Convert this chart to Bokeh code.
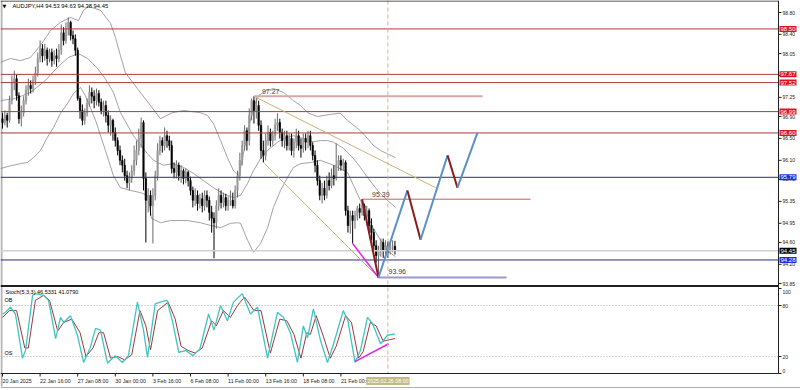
import numpy as np
from bokeh.plotting import figure
from bokeh.models import Range1d, Label
from bokeh.embed import file_html
from bokeh.resources import INLINE

# ---------------- data ----------------
title_text = "AUDJPY,H4 94.53 94.63 94.38 94.45"

open_ = [96.86, 96.79, 96.92, 96.83, 97.19, 97.52, 97.59, 97.28, 96.86, 96.97,
         97.19, 97.38, 97.47, 97.41, 97.56, 97.70, 97.96, 98.14, 98.01, 98.11,
         97.96, 98.07, 97.92, 98.01, 97.96, 98.11, 98.43, 98.29, 98.51, 98.62,
         98.38, 98.32, 98.11, 97.23, 97.01, 96.83, 96.97, 97.14, 97.34, 97.27,
         97.19, 97.32, 97.16, 97.01, 97.10, 96.92, 96.74, 96.83, 96.61, 96.46,
         96.28, 96.10, 96.01, 95.82, 95.69, 95.77, 95.91, 96.10, 96.28, 96.50,
         96.79, 95.77, 95.37, 95.46, 95.27, 95.46, 95.82, 96.28, 96.46, 96.37,
         96.55, 96.46, 96.37, 95.95, 95.88, 96.01, 95.82, 95.91, 95.77, 95.88,
         95.73, 95.55, 95.37, 95.46, 95.31, 95.40, 95.27, 95.46, 95.37, 95.15,
         95.04, 94.96, 95.27, 95.46, 95.33, 95.42, 95.27, 95.37, 95.37, 95.27,
         95.55, 95.82, 96.10, 96.37, 96.64, 96.46, 96.92, 97.19, 97.01, 97.10,
         96.74, 96.28, 96.19, 96.46, 96.61, 96.46, 96.55, 96.74, 96.79, 96.61,
         96.46, 96.55, 96.37, 96.50, 96.28, 96.43, 96.55, 96.37, 96.32, 96.50,
         96.43, 96.55, 96.37, 96.19, 96.01, 95.73, 95.46, 95.59, 95.46, 95.73,
         95.64, 95.82, 95.77, 96.01, 96.10, 96.01, 96.06, 95.18, 94.91, 95.09,
         95.00, 95.09, 95.22, 95.15, 95.27, 95.09, 95.18, 94.91, 94.78, 94.54,
         94.36, 94.45, 94.60, 94.45, 94.54, 94.42, 94.53, 94.53]
high_ = [96.97, 97.01, 96.97, 97.28, 97.65, 97.74, 97.67, 97.34, 97.10, 97.27,
         97.47, 97.59, 97.56, 97.65, 97.81, 98.07, 98.29, 98.22, 98.23, 98.16,
         98.14, 98.14, 98.11, 98.14, 98.22, 98.58, 98.53, 98.62, 98.71, 98.65,
         98.47, 98.40, 98.16, 97.28, 97.12, 97.05, 97.23, 97.47, 97.43, 97.38,
         97.41, 97.38, 97.23, 97.19, 97.19, 97.01, 96.92, 96.86, 96.70, 96.52,
         96.37, 96.19, 96.13, 95.91, 95.88, 96.01, 96.37, 96.46, 96.68, 96.88,
         96.83, 95.88, 95.59, 95.55, 95.59, 95.91, 96.41, 96.55, 96.52, 96.70,
         96.64, 96.55, 96.46, 96.06, 96.10, 96.06, 96.01, 95.95, 95.95, 95.91,
         95.80, 95.62, 95.59, 95.55, 95.49, 95.51, 95.55, 95.55, 95.44, 95.27,
         95.15, 95.37, 95.59, 95.55, 95.51, 95.49, 95.44, 95.55, 95.51, 95.64,
         95.91, 96.24, 96.46, 96.74, 96.70, 97.05, 97.23, 97.27, 97.25, 97.19,
         96.83, 96.46, 96.59, 96.74, 96.68, 96.64, 96.86, 96.96, 96.86, 96.68,
         96.64, 96.64, 96.59, 96.59, 96.50, 96.68, 96.64, 96.50, 96.59, 96.59,
         96.64, 96.64, 96.43, 96.28, 96.10, 95.82, 95.69, 95.73, 95.82, 95.88,
         95.95, 96.01, 96.41, 96.19, 96.19, 96.13, 96.10, 95.27, 95.18, 95.18,
         95.18, 95.27, 95.31, 95.39, 95.31, 95.27, 95.22, 95.04, 94.85, 94.64,
         94.54, 94.67, 94.67, 94.64, 94.62, 94.60, 94.64, 94.63]
low_ = [96.68, 96.74, 96.70, 96.79, 97.12, 97.38, 97.19, 96.77, 96.72, 96.90,
        97.12, 97.28, 97.32, 97.34, 97.48, 97.63, 97.89, 97.89, 97.92, 97.83,
        97.89, 97.81, 97.85, 97.81, 97.89, 98.03, 98.20, 98.23, 98.38, 98.29,
        98.22, 98.01, 97.19, 96.86, 96.74, 96.75, 96.90, 97.08, 97.14, 97.05,
        97.10, 97.08, 96.94, 96.90, 96.79, 96.61, 96.55, 96.46, 96.35, 96.19,
        96.01, 95.88, 95.73, 95.59, 95.55, 95.69, 95.82, 96.01, 96.19, 96.33,
        95.55, 94.60, 95.15, 95.09, 94.58, 95.37, 95.73, 96.19, 96.24, 96.28,
        96.33, 96.28, 95.86, 95.77, 95.77, 95.73, 95.69, 95.66, 95.68, 95.62,
        95.46, 95.24, 95.27, 95.18, 95.22, 95.15, 95.18, 95.24, 95.00, 94.78,
        94.31, 94.85, 95.18, 95.22, 95.24, 95.18, 95.18, 95.27, 95.22, 95.22,
        95.42, 95.73, 96.01, 96.28, 96.28, 96.37, 96.83, 96.77, 96.86, 96.64,
        96.13, 96.06, 96.10, 96.37, 96.35, 96.37, 96.46, 96.64, 96.50, 96.35,
        96.32, 96.28, 96.28, 96.19, 96.15, 96.32, 96.28, 96.15, 96.24, 96.28,
        96.32, 96.28, 96.10, 95.88, 95.64, 95.37, 95.31, 95.37, 95.40, 95.55,
        95.59, 95.64, 95.73, 95.91, 95.91, 95.91, 95.09, 94.78, 94.76, 94.58,
        94.85, 95.00, 95.04, 95.09, 95.00, 94.91, 94.78, 94.64, 94.45, 94.23,
        93.96, 94.34, 94.32, 94.36, 94.32, 94.38, 94.42, 94.38]
close_ = [96.79, 96.92, 96.83, 97.19, 97.52, 97.59, 97.28, 96.86, 96.97, 97.19,
          97.38, 97.47, 97.41, 97.56, 97.70, 97.96, 98.14, 98.01, 98.11, 97.96,
          98.07, 97.92, 98.01, 97.96, 98.11, 98.43, 98.29, 98.51, 98.62, 98.38,
          98.32, 98.11, 97.23, 97.01, 96.83, 96.97, 97.14, 97.34, 97.27, 97.19,
          97.32, 97.16, 97.01, 97.10, 96.92, 96.74, 96.83, 96.61, 96.46, 96.28,
          96.10, 96.01, 95.82, 95.69, 95.77, 95.91, 96.10, 96.28, 96.50, 96.79,
          95.77, 95.37, 95.46, 95.27, 95.46, 95.82, 96.28, 96.46, 96.37, 96.55,
          96.46, 96.37, 95.95, 95.88, 96.01, 95.82, 95.91, 95.77, 95.88, 95.73,
          95.55, 95.37, 95.46, 95.31, 95.40, 95.27, 95.46, 95.37, 95.15, 95.04,
          94.96, 95.27, 95.46, 95.33, 95.42, 95.27, 95.37, 95.37, 95.27, 95.55,
          95.82, 96.10, 96.37, 96.64, 96.46, 96.92, 97.19, 97.01, 97.10, 96.74,
          96.28, 96.19, 96.46, 96.61, 96.46, 96.55, 96.74, 96.79, 96.61, 96.46,
          96.55, 96.37, 96.50, 96.28, 96.43, 96.55, 96.37, 96.32, 96.50, 96.43,
          96.55, 96.37, 96.19, 96.01, 95.73, 95.46, 95.59, 95.46, 95.73, 95.64,
          95.82, 95.77, 96.01, 96.10, 96.01, 96.06, 95.18, 94.91, 95.09, 95.00,
          95.09, 95.22, 95.15, 95.27, 95.09, 95.18, 94.91, 94.78, 94.54, 94.36,
          94.45, 94.60, 94.45, 94.54, 94.42, 94.53, 94.53, 94.45]

# Bollinger bands (read at sample bars)
bb_upper_bars = [-0.9, 3.4, 7.7, 11.9, 16.2, 20.4, 24.7, 28.9, 32.3, 34.5,
                 36.6, 41.7, 46.0, 48.1, 50.2, 52.3, 57.4, 63.0, 67.2, 72.3,
                 77.0, 84.3, 87.2, 89.8, 92.8, 95.7, 98.3, 100.4, 101.7, 103.0,
                 104.3, 106.4, 108.9, 111.9, 115.3, 119.6, 123.8, 126.8, 129.8, 134.0,
                 139.6, 143.8, 146.8, 149.4, 152.3, 155.3, 157.9, 160.9, 163.8, 167.2]
bb_upper = [97.89, 97.96, 97.92, 97.98, 98.20, 98.47, 98.62, 98.71, 98.65, 98.84,
            98.91, 98.84, 98.60, 98.34, 98.01, 97.70, 97.41, 97.10, 96.86, 96.97,
            97.01, 96.97, 96.92, 96.77, 96.46, 96.15, 95.91, 95.82, 96.04, 96.33,
            96.59, 97.01, 97.28, 97.37, 97.41, 97.34, 97.19, 97.10, 96.97, 96.90,
            96.94, 96.96, 96.83, 96.74, 96.64, 96.50, 96.37, 96.28, 96.22, 96.15]
bb_mid_bars = [-0.9, 5.5, 11.9, 18.3, 23.4, 28.1, 32.3, 36.2, 40.4, 43.8,
               47.2, 50.2, 55.7, 61.7, 64.3, 68.5, 72.8, 77.0, 81.3, 85.5,
               89.8, 94.0, 98.3, 101.3, 104.3, 106.8, 109.8, 112.8, 117.0, 119.6,
               123.8, 126.8, 129.8, 132.3, 135.3, 138.3, 140.9, 145.1, 149.4, 152.3,
               155.3, 159.6, 163.8, 167.2]
bb_mid = [97.19, 97.23, 97.34, 97.56, 97.80, 97.98, 98.05, 97.96, 97.78, 97.59,
          97.34, 96.97, 96.55, 96.22, 96.10, 96.01, 96.04, 95.97, 95.86, 95.73,
          95.60, 95.49, 95.42, 95.46, 95.68, 95.91, 96.13, 96.28, 96.43, 96.50,
          96.55, 96.52, 96.46, 96.44, 96.46, 96.46, 96.43, 96.32, 96.13, 95.97,
          95.79, 95.55, 95.37, 95.24]
bb_lower_bars = [-0.9, 3.4, 7.7, 10.6, 13.2, 16.2, 19.1, 21.7, 24.7, 27.7,
                 30.2, 33.2, 35.3, 39.6, 43.8, 47.2, 50.2, 54.5, 58.7, 61.7,
                 63.4, 67.2, 71.5, 78.7, 84.3, 88.5, 92.8, 97.0, 100.0, 101.3,
                 104.3, 106.8, 109.8, 112.8, 115.3, 118.3, 121.3, 123.8, 126.8, 131.1,
                 135.3, 140.9, 146.8, 149.4, 152.3, 155.3, 157.9, 160.9, 163.8, 167.2]
bb_lower = [95.95, 96.00, 96.04, 96.06, 96.15, 96.28, 96.52, 96.70, 96.96, 97.14,
            97.32, 97.43, 97.28, 96.83, 96.28, 95.82, 95.60, 95.55, 95.51, 95.46,
            95.04, 94.96, 95.00, 95.00, 94.96, 94.91, 94.87, 94.95, 94.96, 94.95,
            94.64, 94.42, 94.58, 94.87, 95.24, 95.55, 95.79, 95.97, 96.04, 96.06,
            96.10, 96.01, 95.88, 95.64, 95.37, 95.09, 94.85, 94.64, 94.45, 94.34]

# Stochastic (5,3,3), read at turning points
stoch_k_bars = [0, 1.3, 3.4, 5.5, 8.5, 9.8, 12.8, 14, 17.4, 19.6, 22.6, 24.7, 26, 28.9,
                31.9, 34.5, 37.4, 39.6, 41.7, 44.7, 48, 51, 53.6, 57.4, 60, 61.7, 65,
                67, 70, 72.3, 75, 78, 81, 84, 87.7, 90, 92.8, 95.7, 98.3, 102, 105.5,
                108.5, 112.8, 117, 119.6, 122.6, 125.5, 128, 129.8, 132.3, 135.3, 138.3,
                140.9, 145, 147, 150, 152.3, 155.3, 157.4, 160.9, 163.8, 167]
stoch_k = [70, 72, 78, 70, 18, 27, 92, 94, 92, 86, 41, 66, 60, 68,
           45, 13, 31, 53, 51, 12, 21, 13, 21, 84, 51, 19, 82,
           84, 86, 62, 25, 27, 21, 29, 70, 51, 80, 62, 84, 94, 70,
           78, 18, 72, 66, 47, 13, 56, 42, 76, 39, 13,
           35, 74, 62, 13, 27, 66, 59, 35, 45, 46.53]
stoch_d_bars = [0, 3, 6, 9.5, 11, 14, 17.5, 20, 23.5, 26, 29.5, 33, 35.5, 38.5, 41, 43,
                46, 49, 52, 55, 58.5, 61, 63, 66, 70.5, 73.5, 76, 79, 82, 85, 89, 91,
                94, 97, 100, 103, 107, 110, 114, 118, 121, 124, 127, 129.5, 131, 133.5,
                136.5, 139.5, 142, 146, 148.5, 151.5, 153.5, 156.5, 159, 162, 165, 167]
stoch_d = [66, 74, 74, 30, 30, 86, 92, 86, 50, 60, 64, 48, 20, 30, 48, 48,
           18, 20, 16, 22, 74, 56, 28, 74, 84, 64, 32, 27, 24, 30, 62, 56,
           74, 66, 80, 90, 74, 74, 24, 64, 62, 46, 18, 48, 46, 68,
           44, 18, 32, 68, 60, 18, 26, 60, 56, 38, 40, 41.08]
stoch_label = "Stoch(5,3,3) 46.5331 41.0790"
stoch_levels = [80, 20]
stoch_ticks = [100, 80, 20, 0]

# axes
price_ticks = [98.80, 98.40, 98.05, 97.65, 97.25, 96.90, 96.50, 96.10, 95.75,
               95.35, 94.95, 94.60, 94.20, 93.85]
time_tick_bars = [0, 16, 32, 48, 64, 80, 96, 112, 128, 144]
time_tick_labels = ["20 Jan 2025", "22 Jan 16:00", "27 Jan 08:00", "30 Jan 00:00",
                    "3 Feb 16:00", "6 Feb 08:00", "11 Feb 00:00", "13 Feb 16:00",
                    "18 Feb 08:00", "21 Feb 00:00"]
cursor_bar = 164
cursor_label = "2025.02.26 08:00"

# horizontal levels
resistance_levels = [98.50, 97.67, 97.52, 96.99, 96.60]
support_levels = [95.79, 94.28]
bid_price = 94.45

# drawn objects (bar, price)
peak_bar, peak_price, peak_end_bar = 107, 97.27, 204.3
mid_bar, mid_price, mid_end_bar = 153, 95.39, 224.7
low_bar, low_price, low_end_bar = 160, 93.96, 214.5
wedge_upper_bars, wedge_upper = [107, 184.3], [97.27, 95.60]
wedge_lower_bars, wedge_lower = [111, 160], [96.06, 93.96]
diverg_price_bars, diverg_price = [149, 160], [94.58, 93.96]
diverg_stoch_bars, diverg_stoch = [150, 164.3], [14, 35]
proj_bars = [160, 172.3, 177.9, 189.4, 193.6, 202.1]
proj_prices = [93.96, 95.55, 94.65, 96.19, 95.60, 96.60]

# ---------------- layout (pixels of the 800x390 canvas) ----------------
W, H = 800, 390
X0_PX = 2.0
PX_PER_BAR = 2.35
CHART_RIGHT = 778
MAIN_BOTTOM = 285.5
STOCH_BOTTOM = 373
CAL_PX, CAL_PRICE = 12.0, 98.80
PX_PER_PRICE = 54.75
STOCH_PX = 0.85

x_start = -X0_PX / PX_PER_BAR
x_end = (W - X0_PX) / PX_PER_BAR
y_end = CAL_PRICE + CAL_PX / PX_PER_PRICE
y_start = y_end - H / PX_PER_PRICE
st_end = STOCH_BOTTOM / STOCH_PX
st_start = st_end - H / STOCH_PX


def bx(px):
    return (px - X0_PX) / PX_PER_BAR


def py(ypx):
    return y_end - ypx / PX_PER_PRICE


FONT = "Liberation Sans"

p = figure(width=W, height=H, x_range=Range1d(x_start, x_end), y_range=Range1d(y_start, y_end),
           output_backend="svg", toolbar_location=None,
           x_axis_location=None, y_axis_location=None,
           min_border_left=0, min_border_right=0, min_border_top=0, min_border_bottom=0,
           background_fill_color="white", border_fill_color="white", outline_line_color=None)
p.extra_y_ranges = {"stoch": Range1d(st_start, st_end)}
p.grid.visible = False

XL, XR = bx(0), bx(CHART_RIGHT)

# left window edge
p.segment([bx(1)], [py(0)], [bx(1)], [py(386)], line_color="#b4b4b4", line_width=2)

# Bollinger bands
for bxs, bys in ((bb_upper_bars, bb_upper), (bb_mid_bars, bb_mid), (bb_lower_bars, bb_lower)):
    p.line(bxs, bys, line_color="#8a8a8a", line_width=0.8)

# candles
o = np.array(open_)
c = np.array(close_)
idx = np.arange(len(c))
bull = c >= o
body_col = np.where(bull, "#9a9a9a", "#000000").tolist()
wick_col = np.where(bull, "#6a6a6a", "#000000").tolist()
p.segment(x0=idx, y0=high_, x1=idx, y1=low_, line_color=wick_col, line_width=1)
p.vbar(x=idx, top=np.maximum(o, c), bottom=np.minimum(o, c), width=0.62,
       fill_color=body_col, line_color=body_col, line_width=0.6)

# horizontal full-width levels
n_r, n_s = len(resistance_levels), len(support_levels)
p.segment([XL] * n_r, resistance_levels, [XR] * n_r, resistance_levels, line_color="#a83c3c", line_width=1)
p.segment([XL] * n_s, support_levels, [XR] * n_s, support_levels, line_color="#2c2c80", line_width=1)
p.segment([XL], [bid_price], [XR], [bid_price], line_color="#cfcfcf", line_width=1.5)

# wedge trendlines
p.line(wedge_upper_bars, wedge_upper, line_color="#c9b27a", line_width=1)
p.line(wedge_lower_bars, wedge_lower, line_color="#c9b27a", line_width=1)

# horizontal short segments
p.line([peak_bar, peak_end_bar], [peak_price, peak_price], line_color="#d2a8a8", line_width=2)
p.line([mid_bar, mid_end_bar], [mid_price, mid_price], line_color="#cc5a5a", line_width=1)
p.line([low_bar, low_end_bar], [low_price, low_price], line_color="#9a9ad2", line_width=2)

# divergence on price, drop leg, projection
p.line(diverg_price_bars, diverg_price, line_color="#e028e0", line_width=1.5)
p.line([mid_bar, low_bar], [mid_price, low_price], line_color="#8b1c1c", line_width=2)
for i in range(len(proj_bars) - 1):
    col = "#5d8fc8" if i % 2 == 0 else "#8b1c1c"
    p.line(proj_bars[i:i + 2], proj_prices[i:i + 2], line_color=col, line_width=2)

# stochastic
n_l = len(stoch_levels)
p.segment([XL] * n_l, stoch_levels, [XR] * n_l, stoch_levels, y_range_name="stoch",
          line_color="#a8a8a8", line_width=1, line_dash="1 2")
p.line(stoch_d_bars, stoch_d, y_range_name="stoch", line_color="#9b3a3a", line_width=1)
p.line(stoch_k_bars, stoch_k, y_range_name="stoch", line_color="#40c4c4", line_width=1.3)
p.line(diverg_stoch_bars, diverg_stoch, y_range_name="stoch", line_color="#e028e0", line_width=1.5)

# cursor vertical line
p.segment([cursor_bar], [py(0)], [cursor_bar], [py(STOCH_BOTTOM)], line_color="#cbb985",
          line_width=1, line_dash="4 3")

# chart frame lines
p.segment([XL, XR, XL, XL], [py(0.5), py(0), py(MAIN_BOTTOM), py(STOCH_BOTTOM)],
          [XR, XR, XR, XR], [py(0.5), py(STOCH_BOTTOM), py(MAIN_BOTTOM), py(STOCH_BOTTOM)],
          line_color="#202020", line_width=[1, 1, 2, 1])
p.segment([bx(0)], [py(387)], [bx(W)], [py(387)], line_color="#b0b0b0", line_width=1)

AX_FONT = "5px"
# price axis ticks + labels
n_t = len(price_ticks)
p.segment([XR] * n_t, price_ticks, [bx(CHART_RIGHT + 3)] * n_t, price_ticks, line_color="#202020", line_width=1)
for t in price_ticks:
    p.add_layout(Label(x=bx(CHART_RIGHT + 4), y=t, text=f"{t:.2f}", text_font=FONT,
                       text_font_size=AX_FONT, text_color="#222222", text_baseline="middle"))
n_st = len(stoch_ticks)
p.segment([XR] * n_st, stoch_ticks, [bx(CHART_RIGHT + 3)] * n_st, stoch_ticks, y_range_name="stoch",
          line_color="#202020", line_width=1)
for v in stoch_ticks:
    off = -3 if v == max(stoch_ticks) else (3 if v == min(stoch_ticks) else 0)
    p.add_layout(Label(x=bx(CHART_RIGHT + 4), y=v, y_range_name="stoch", y_offset=off, text=str(v),
                       text_font=FONT, text_font_size=AX_FONT, text_color="#222222",
                       text_baseline="middle"))

# time axis ticks + labels
n_x = len(time_tick_bars)
p.segment(time_tick_bars, [py(STOCH_BOTTOM)] * n_x, time_tick_bars, [py(STOCH_BOTTOM + 3)] * n_x,
          line_color="#202020", line_width=1)
for b, t in zip(time_tick_bars, time_tick_labels):
    p.add_layout(Label(x=b, y=py(380.5), text=t, text_font=FONT, text_font_size="5.3px",
                       text_color="#222222", text_baseline="middle", text_align="left"))
p.add_layout(Label(x=cursor_bar, y=py(380.5), text=cursor_label, text_font=FONT,
                   text_font_size="5.3px", text_color="#ffffff", text_baseline="middle",
                   text_align="center", background_fill_color="#c4bb84", padding=1))

# texts on chart
txt_kw = dict(text_font=FONT, text_font_size="7px", text_color="#404040", text_baseline="middle")
p.add_layout(Label(x=peak_bar, y=peak_price, x_offset=8, y_offset=5, text="97:27", **txt_kw))
p.add_layout(Label(x=mid_bar, y=mid_price, x_offset=10, y_offset=5, text=f"{mid_price:.2f}", **txt_kw))
p.add_layout(Label(x=low_bar, y=low_price, x_offset=10, y_offset=6, text=f"{low_price:.2f}", **txt_kw))

# title
p.add_layout(Label(x=bx(2), y=py(5), text="\u25bc", text_font="DejaVu Sans",
                   text_font_size="5px", text_color="#000000", text_baseline="middle"))
p.add_layout(Label(x=bx(12), y=py(5), text=title_text, text_font=FONT,
                   text_font_size="5.8px", text_color="#000000", text_baseline="middle"))

# stochastic texts
p.add_layout(Label(x=bx(5), y=py(291), text=stoch_label, text_font=FONT,
                   text_font_size="5.5px", text_color="#000000", text_baseline="middle"))
p.add_layout(Label(x=bx(4), y=80, y_range_name="stoch", y_offset=3, text="OB", text_font=FONT,
                   text_font_size="5.5px", text_color="#000000", text_baseline="bottom"))
p.add_layout(Label(x=bx(4), y=20, y_range_name="stoch", y_offset=1, text="OS", text_font=FONT,
                   text_font_size="5.5px", text_color="#000000", text_baseline="bottom"))

# right-side level boxes
box_kw = dict(text_font=FONT, text_font_size="6px", text_color="white", text_baseline="middle",
              text_align="left", x_offset=1, padding=1)
for lv in resistance_levels:
    p.add_layout(Label(x=XR, y=lv, text=f"{lv:.2f}", background_fill_color="#e0141c", **box_kw))
for lv in support_levels:
    p.add_layout(Label(x=XR, y=lv, text=f"{lv:.2f}", background_fill_color="#1a2ee0", **box_kw))
p.add_layout(Label(x=XR, y=bid_price, text=f"{bid_price:.2f}", background_fill_color="#000000", **box_kw))

open("out.html", "w").write(file_html(p, INLINE))
